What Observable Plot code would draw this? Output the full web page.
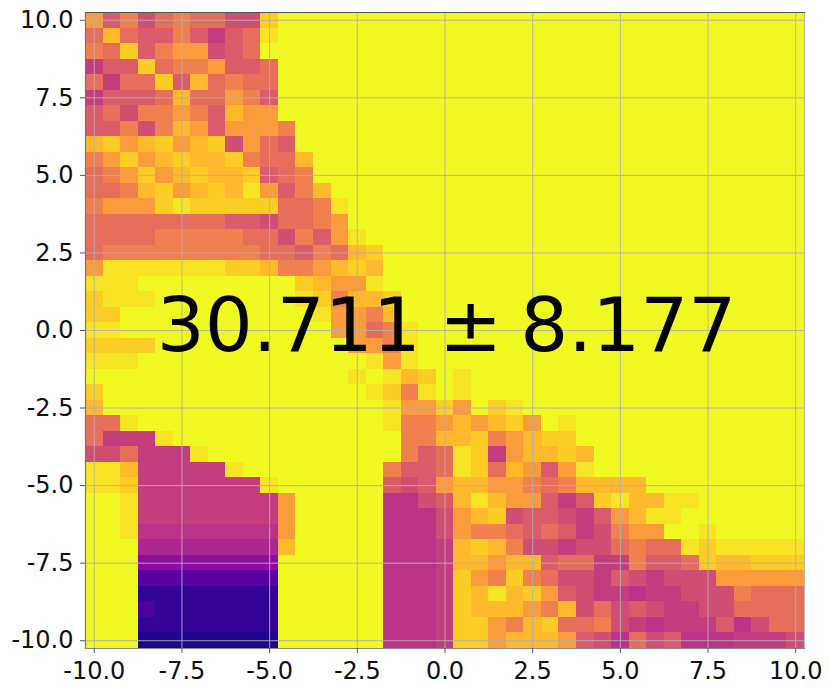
<!DOCTYPE html>
<html>
<head>
<meta charset="utf-8">
<script src="https://cdn.jsdelivr.net/npm/d3@7"></script>
<script src="https://cdn.jsdelivr.net/npm/@observablehq/plot@0.6"></script>
<style>html,body{margin:0;padding:0;background:#fff}svg{display:block}.big text{word-spacing:-6px}</style>
</head>
<body>
<div id="chart"></div>
<script>
const tickValues = [-10, -7.5, -5, -2.5, 0, 2.5, 5, 7.5, 10];
const annotation = "30.711 ± 8.177";
const levels = {".":1,a:.95,b:.90,c:.85,d:.77,e:.69,f:.63,g:.57,h:.52,i:.47,j:.43,k:.39,l:.30,m:.16,p:.12,n:.07,o:.03};
// one string per row, top (y = 10) to bottom (y = -10); missing cells at the right end are yellow
const rows = [
"dgehfeffhhb",
"fcfggegigfa",
"efbgeddhgf",
"iggbfeedggf",
"fiffbgcfeff",
"igggfcffdeg",
"gfheedegcdd",
"ggehecdgddde",
"cbdcbdcbhdfg",
"edbdcbccbeffc",
"fedbdcbccbgfe",
"ffecbdcbcadgec",
"edddbabbbbbffea",
"ffffffffgghffed",
"ffffeeeeeffhegda",
"feeeeeeeeeffgefcb",
"daaaaaaabbceedcbc",
"aaa.........bcdda",
"baaa........abeccb",
"bb...........addec",
"aa............ddfea",
"bbbb...........ddea",
"aaa.............ada",
"...............a.acb.a",
"b...............abea.a",
"c................addbd.ba",
"ffa..............aeedcdcbd.a",
"fiiia.............eeccbedcbb",
"hhfiiia...........egfabidccbc",
"aaciiiiia........eggfabfcdgda",
"aabiiiiiiia......ghgdccddefecccc",
"..aiiiiiiiid.....jjhgcacddgigbaccaa",
"..aiiiiiiiid.....jjjhdcbhgghigdcaa",
"..ajjjjjjjjd.....jjjhdeefgfgihedd..a",
"...kkkkkkkkc.....jjjicbcehhihhfeffabaaaaa",
"...llllllll......jjjiccdccgffiieggfbccbbb",
"...mmmmmmmm......jjjibdebefhhighihhhddddd",
"...nnnnnnnn......jjjibcacbdghiijiihhhefff",
"...pnnnnnnn......jjjibcccdechfhghiihhffff",
"...nnnnnnnn......jjjibbdecbffehijiiigjhff",
"...oooooooo......jjjibbdcccdghjfhgjjjiiih"
];
const cells = rows.flatMap((r, j) =>
  Array.from(r.padEnd(41, "."), (ch, i) => ({x: -10 + i * 0.5, y: 10 - j * 0.5, v: levels[ch]}))
);
const fmt = d => d.toFixed(1);
const chart = Plot.plot({
  width: 830, height: 690,
  marginLeft: 85, marginRight: 26, marginTop: 12, marginBottom: 42,
  style: {fontFamily: "DejaVu Sans", background: "#fff"},
  x: {domain: [-10.25, 10.25]},
  y: {domain: [-10.25, 10.25]},
  color: {type: "linear", scheme: "plasma", domain: [0, 1]},
  marks: [
    Plot.rect(cells, {
      x1: d => d.x - 0.25, x2: d => d.x + 0.25,
      y1: d => d.y - 0.25, y2: d => d.y + 0.25,
      fill: "v", shapeRendering: "crispEdges"
    }),
    Plot.gridX(tickValues, {stroke: "#b0b0b0", strokeOpacity: 0.9, strokeWidth: 1}),
    Plot.gridY(tickValues, {stroke: "#b0b0b0", strokeOpacity: 0.9, strokeWidth: 1}),
    Plot.frame({anchor: "right", stroke: "#bbb", strokeWidth: 1.2}),
    Plot.frame({anchor: "top", stroke: "#555", strokeWidth: 1.2}),
    Plot.frame({anchor: "left", stroke: "#777", strokeWidth: 1.2}),
    Plot.frame({anchor: "bottom", stroke: "#888", strokeWidth: 1.2}),
    Plot.axisX({ticks: tickValues, tickFormat: fmt, label: null, fontSize: 24, tickSize: 5, tickPadding: 8, stroke: "#555", fill: "#111"}),
    Plot.axisY({ticks: tickValues, tickFormat: fmt, label: null, fontSize: 24, tickSize: 5, tickPadding: 7, stroke: "#555", fill: "#111"}),
    Plot.text([annotation], {x: () => 0, y: () => 0, dx: 1.5, dy: -4, fontSize: 75.5, fill: "black", fontFamily: "DejaVu Sans", textAnchor: "middle", className: "big"})
  ]
});
document.getElementById("chart").append(chart);
</script>
</body>
</html>
